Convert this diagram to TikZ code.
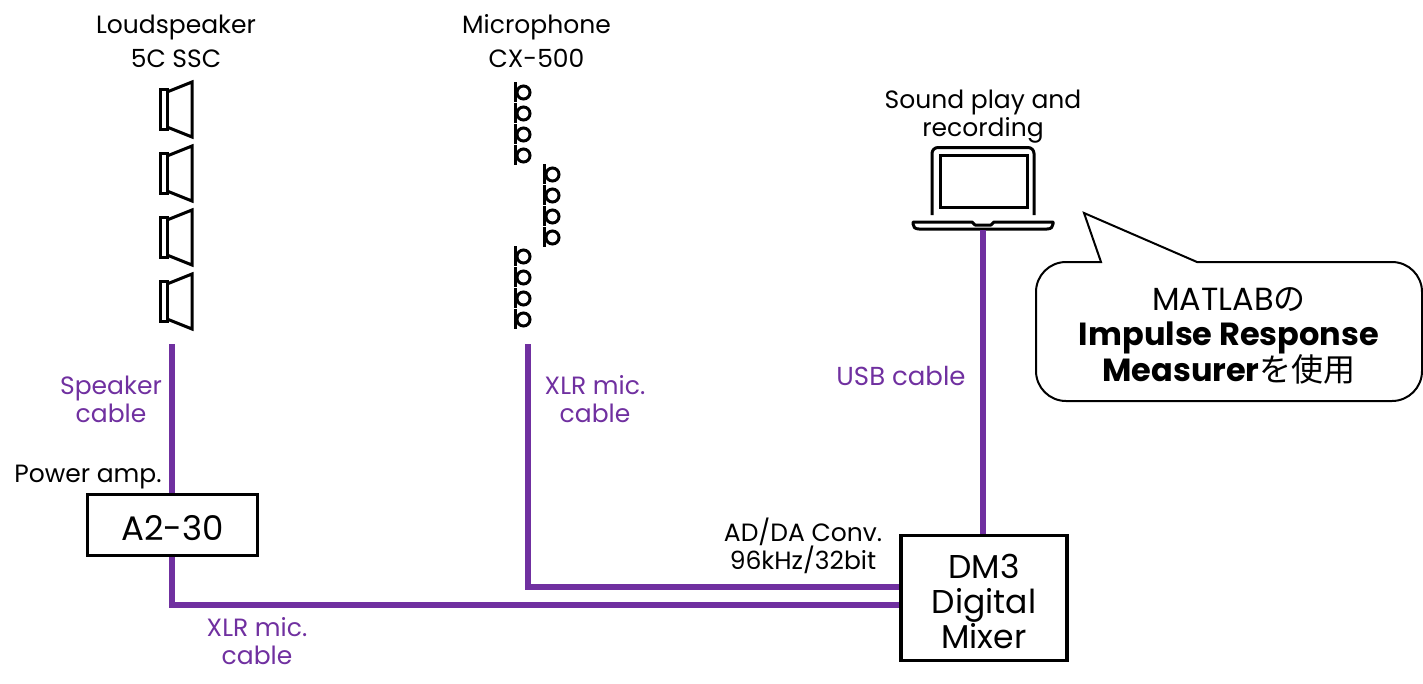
\documentclass[tikz,border=0pt]{standalone}
\usepackage{fontspec}
\setmainfont{Poppins}
\newfontfamily\jp{Noto Sans CJK JP}
\definecolor{cablec}{HTML}{7030A0}
\tikzset{
  lab/.style={align=center,inner sep=0pt,font=\fontsize{25}{28}\selectfont},
  cablelab/.style={lab,text=cablec},
  box/.style={draw,line width=3.2pt,fill=white,align=center,inner sep=0pt},
  cable/.style={draw=cablec,line width=6pt},
  icon/.style={line width=3pt,line join=miter},
  spk/.pic={\draw[icon] (160,7) rectangle (167,47);
            \draw[icon] (167,10) -- (192,0) -- (192,55) -- (167,45);},
  micr/.pic={\draw[line width=3pt] (0,0) -- (0,20);
             \draw[line width=3pt] (8.5,10.5) circle (6.5);},
}
\begin{document}
\begin{tikzpicture}[x=1pt,y=-1pt]
\useasboundingbox (0,0) rectangle (1423,683);
\foreach \y in {82,146,210,274} \pic at (0,\y) {spk};
\foreach \x/\y in {515/82,515/103,515/124,515/145,544/164,544/185,544/206,544/227,515/246,515/267,515/288,515/309} \pic at (\x,\y) {micr};
% laptop
\draw[icon,rounded corners=6pt] (932,215) -- (932,147.5) -- (1034,147.5) -- (1034,215);
\draw[icon] (940,155) rectangle (1027,207);
\draw[line width=3pt,line join=round,fill=white] (913,222) -- (972,222) -- (975,225) -- (991,225) -- (994,222) -- (1053,222) -- (1053,224) .. controls (1053,227) and (1051,229) .. (1047,229) -- (919,229) .. controls (915,229) and (913,227) .. (913,224) -- cycle;
% boxes
\node[box,minimum width=170pt,minimum height=61pt] (amp) at (172.5,525) {};
\node[lab,font=\fontsize{34}{36}\selectfont] (ampt) at (172.5,528) {A2-30};
\node[box,minimum width=166pt,minimum height=125pt] (dm) at (984,598) {};
\node[lab,font=\fontsize{33}{35}\selectfont] (dmt) at (984,601) {DM3\\Digital\\Mixer};
\coordinate (spkend) at (172,344);
\coordinate (micend) at (528,344);
\coordinate (lap) at (983,230);
\coordinate (dmA) at (dm.west |- 0,587);
\coordinate (dmB) at (dm.west |- 0,605);
\draw[cable] (spkend) -- (amp.north -| spkend);
\draw[cable] (amp.south -| spkend) -- (172,605) -- (dmB);
\draw[cable] (micend) -- (528,587) -- (dmA);
\draw[cable] (lap) -- (dm.north -| lap);
% callout
\draw[line width=2pt,fill=white] (1197,262) [rounded corners=30pt] -- (1422,262) -- (1422,401) -- (1036,401) -- (1036,262) [sharp corners] -- (1101,262) -- (1084,213) -- cycle;
\node[lab,font=\fontsize{32}{35}\selectfont] (call) at (1229,336) {MATLAB{\jp の}\\\textbf{Impulse Response}\\\textbf{Measurer}{\jp を使用}};
% labels
\node[lab,font=\fontsize{25}{34}\selectfont] (l1) at (176,41) {Loudspeaker\\5C SSC};
\node[lab,font=\fontsize{25}{34}\selectfont] (l2) at (536.5,41) {Microphone\\CX-500};
\node[lab] (l3) at (983,117) {Sound play and\\recording};
\node[cablelab] (c1) at (111,399) {Speaker\\cable};
\node[cablelab] (c2) at (595,399) {XLR mic.\\cable};
\node[cablelab,font=\fontsize{26}{28}\selectfont] (c3) at (901,376) {USB cable};
\node[cablelab] (c4) at (257,641) {XLR mic.\\cable};
\node[lab] (l4) at (88,477) {Power amp.};
\node[lab] (l5) at (803,546) {AD/DA Conv.\\96kHz/32bit};
\end{tikzpicture}
\end{document}
